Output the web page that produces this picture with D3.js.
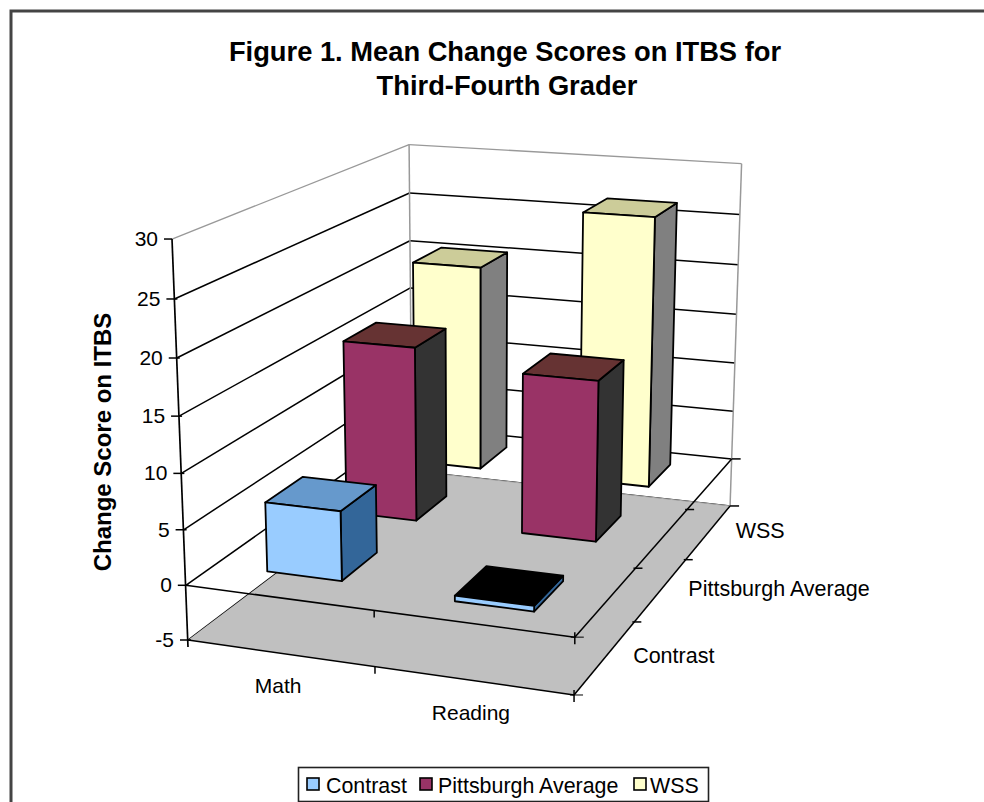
<!DOCTYPE html>
<html><head><meta charset="utf-8">
<script src="https://cdnjs.cloudflare.com/ajax/libs/d3/7.8.5/d3.min.js"></script>
<style>html,body{margin:0;background:#fff}svg{display:block}text{font-family:"Liberation Sans",Arial,sans-serif;fill:#000}</style>
</head><body><div id="c"></div>
<script>
const categories=["Math","Reading"];
const seriesNames=["Contrast","Pittsburgh Average","WSS"];
const contrastValues=[6.3,-0.5];
const pittsburghValues=[16.5,15];
const wssValues=[20.4,26.5];
const valueTicks=[-5,0,5,10,15,20,25,30];
const titleLines=["Figure 1. Mean Change Scores on ITBS for","Third-Fourth Grader"];
const axisTitle="Change Score on ITBS";

const faceColors={
 "Contrast":{front:"#99ccff",top:"#6699cc",side:"#336699"},
 "Pittsburgh Average":{front:"#993366",top:"#663333",side:"#333333"},
 "WSS":{front:"#ffffcc",top:"#cccc99",side:"#808080"}
};
const seriesValues=[contrastValues,pittsburghValues,wssValues];

const W=984,H=802;
const svg=d3.select("#c").append("svg").attr("width",W).attr("height",H);

// scales into a unit box; a projective camera maps the box to the page
const uScale=d3.scaleBand().domain(categories).range([-0.004,0.996]).paddingInner(0.595).paddingOuter(0.2975);
const vScale=d3.scaleBand().domain(seriesNames).range([0.015,1.015]).paddingInner(0.55).paddingOuter(0.275);
const tScale=d3.scaleLinear().domain([-5,30]).range([0,1]);
const cam={ax:351.2,bx:324.4,px:-24.94,cx:188, ay:12.8,by:-54.3,py:-413.4,cy:640, g:-0.0607,h:0.2436,r:-0.052};
const proj=(u,v,val)=>{const t=tScale(val),d=cam.g*u+cam.h*v+cam.r*t+1;
 return [(cam.ax*u+cam.bx*v+cam.px*t+cam.cx)/d,(cam.ay*u+cam.by*v+cam.py*t+cam.cy)/d];};
const path=d3.line();
const poly=(pts,fill,stroke,sw)=>svg.append("path").attr("d",path(pts)+"Z").attr("fill",fill).attr("stroke",stroke||"none").attr("stroke-width",sw||1.8).attr("stroke-linejoin","round");
const seg=(a,b,stroke,sw)=>svg.append("path").attr("d",path([a,b])).attr("fill","none").attr("stroke",stroke||"#000").attr("stroke-width",sw||1.5);
const off=(p,dx,dy)=>[p[0]+dx,p[1]+dy];

// frame: only its top and left edges fall inside the picture
svg.append("rect").attr("x",11).attr("y",11).attr("width",1000).attr("height",820).attr("fill","#fff").attr("stroke","#444").attr("stroke-width",3);

// walls and gridlines
valueTicks.forEach(val=>{
 const col=val===30?"#999":"#000";
 seg(proj(0,0,val),proj(0,1,val),col,val===30?1.3:1.5);
 seg(proj(0,1,val),proj(1,1,val),col,val===30?1.3:1.5);
});
seg(proj(0,1,-5),proj(0,1,30),"#999",1.5);
seg(proj(1,1,-5),proj(1,1,30),"#999",1.5);

// floor
poly([proj(0,0,-5),proj(1,0,-5),proj(1,1,-5),proj(0,1,-5)],"#c0c0c0");
seg(proj(0,1,-5),proj(1,1,-5),"#aaa",1);

// axis edges on the floor
[-5,0].forEach(val=>{
 seg(proj(0,0,val),proj(1,0,val));
 seg(proj(1,0,val),proj(1,1,val));
 seg(proj(0.5,0,val),off(proj(0.5,0,val),0,7));
 const end=proj(1,0,val);seg(off(end,0,-5),off(end,0,7));
 seg(off(end,-4,0),off(end,9,0),"#000",1);
 [1/3,2/3,1].forEach(v=>{const p=proj(1,v,val);seg(off(p,v===1?0:-2,0),off(p,v===1?9:7,0));});
});

// value axis
const axisTop=proj(0,0,30),axisBot=proj(0,0,-5);
seg(axisTop,off(axisBot,0,7),"#000",1.7);
valueTicks.forEach(val=>{
 const p=proj(0,0,val);
 seg(off(p,-8,0),off(p,val===30?0:3,0));
 svg.append("text").attr("x",p[0]-14).attr("y",p[1]+7).attr("text-anchor","end").attr("font-size",21).text(val);
});

// bars, back row first
const order=d3.range(seriesNames.length).reverse();
order.forEach(si=>{
 const name=seriesNames[si],c=faceColors[name];
 const v0=vScale(name),v1=v0+vScale.bandwidth();
 categories.forEach((cat,ci)=>{
  const u0=uScale(cat),u1=u0+uScale.bandwidth(),val=seriesValues[si][ci];
  const hi=Math.max(val,0),lo=Math.min(val,0);
  const neg=val<0;
  poly([proj(u1,v0,lo),proj(u1,v1,lo),proj(u1,v1,hi),proj(u1,v0,hi)],c.side,"#000");
  poly([proj(u0,v0,hi),proj(u1,v0,hi),proj(u1,v1,hi),proj(u0,v1,hi)],neg?"#000":c.top,"#000");
  poly([proj(u0,v0,lo),proj(u1,v0,lo),proj(u1,v0,hi),proj(u0,v0,hi)],c.front,"#000");
 });
});

// text
titleLines.forEach((t,i)=>svg.append("text").attr("x",i?507:505).attr("y",61+i*34).attr("text-anchor","middle").attr("font-size",27.3).attr("font-weight","bold").text(t));
svg.append("text").attr("transform","translate(111,442) rotate(-90)").attr("text-anchor","middle").attr("font-size",24).attr("font-weight","bold").text(axisTitle);

categories.forEach((cat,i)=>{
 const p=proj(uScale(cat)+uScale.bandwidth()/2+0.004,0,-5);
 svg.append("text").attr("x",p[0]-2).attr("y",p[1]+(i?39:40)).attr("text-anchor","middle").attr("font-size",21).text(cat);
});
seriesNames.forEach(s=>{
 const p=proj(1,vScale(s)+vScale.bandwidth()/2,-5);
 svg.append("text").attr("x",p[0]+25).attr("y",p[1]+9).attr("font-size",21.5).text(s);
});

// legend
const lg=svg.append("g").attr("transform","translate(298,767)");
lg.append("rect").attr("x",0.5).attr("y",0.5).attr("width",410).attr("height",34).attr("fill","#fff").attr("stroke","#222").attr("stroke-width",1.6);
const legendX=d3.scaleOrdinal().domain(seriesNames).range([9,122,336]);
seriesNames.forEach(s=>{
 const x=legendX(s);
 lg.append("rect").attr("x",x).attr("y",11).attr("width",12).attr("height",12).attr("fill",faceColors[s].front).attr("stroke","#000").attr("stroke-width",1.6);
 lg.append("text").attr("x",x+(s==="Contrast"?19:s==="WSS"?16:18)).attr("y",26).attr("font-size",21.4).text(s);
});
</script></body></html>
